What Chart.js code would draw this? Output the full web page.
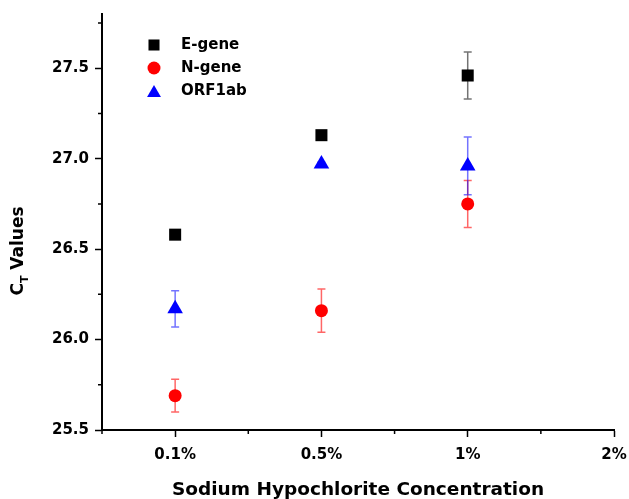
<!DOCTYPE html>
<html>
<head>
<meta charset="utf-8">
<script src="https://cdn.jsdelivr.net/npm/chart.js@4.4.1/dist/chart.umd.min.js"></script>
<style>
  html, body { margin: 0; padding: 0; background: #fff; }
  #wrap { width: 629px; height: 499px; }
</style>
</head>
<body>
<div id="wrap"><canvas id="grafico" width="629" height="499"></canvas></div>
<script>
// concentrations on the x axis (positions 1..4)
const concentrations = ['0.1%', '0.5%', '1%', '2%'];

// Ct values, one per concentration
const eGene = [26.58, 27.13, 27.46];
const nGene = [25.69, 26.16, 26.75];
const orf1ab = [26.17, 26.97, 26.96];

// error bars (+/-)
const eGeneErr = [0.01, 0.01, 0.13];
const nGeneErr = [0.09, 0.12, 0.13];
const orf1abErr = [0.10, 0.01, 0.16];

const seriesNames = ['E-gene', 'N-gene', 'ORF1ab'];
const yTickLabels = [25.5, 26.0, 26.5, 27.0, 27.5];

const FONT = "'DejaVu Sans', sans-serif";

function pontos(valores) {
    return valores.map((v, i) => ({ x: i + 1, y: v }));
}

// error bars drawn behind the markers
const barrasErro = {
    id: 'barrasErro',
    beforeDatasetsDraw(chart) {
        const ctx = chart.ctx;
        const y = chart.scales.y;
        chart.data.datasets.forEach((ds, i) => {
            const meta = chart.getDatasetMeta(i);
            ctx.save();
            ctx.strokeStyle = ds.errColor;
            ctx.lineWidth = 1.5;
            meta.data.forEach((p, j) => {
                const v = ds.data[j].y, e = ds.erros[j];
                const yTop = y.getPixelForValue(v + e);
                const yBot = y.getPixelForValue(v - e);
                ctx.beginPath();
                ctx.moveTo(p.x, yTop); ctx.lineTo(p.x, yBot);
                ctx.moveTo(p.x - 4, yTop); ctx.lineTo(p.x + 4, yTop);
                ctx.moveTo(p.x - 4, yBot); ctx.lineTo(p.x + 4, yBot);
                ctx.stroke();
            });
            ctx.restore();
        });
    }
};

// short minor ticks + legend + y title with subscript
const extras = {
    id: 'extras',
    afterDraw(chart) {
        const ctx = chart.ctx;
        const xs = chart.scales.x, ys = chart.scales.y;
        const area = chart.chartArea;
        ctx.save();
        ctx.strokeStyle = '#000';
        ctx.lineWidth = 1.5;
        ctx.beginPath();
        for (let v = 25.75; v < 27.8; v += 0.5) {
            const py = ys.getPixelForValue(v);
            ctx.moveTo(area.left, py); ctx.lineTo(area.left - 4, py);
        }
        for (let v = 0.5; v < 4; v += 1) {
            const px = xs.getPixelForValue(v);
            ctx.moveTo(px, area.bottom); ctx.lineTo(px, area.bottom + 4);
        }
        ctx.stroke();

        // legend
        ctx.font = 'bold 15px ' + FONT;
        ctx.textBaseline = 'middle';
        ctx.fillStyle = '#000';
        const raios = [7.8, 6.5, 8];
        chart.data.datasets.forEach((ds, i) => {
            const ly = 45 + i * 23;
            ctx.fillStyle = ds.backgroundColor;
            Chart.helpers.drawPoint(ctx, { pointStyle: ds.pointStyle, radius: raios[i], rotation: 0, borderWidth: 0 }, 154, ly + (ds.pointStyle === 'triangle' ? 2 : 0));
            ctx.fillStyle = '#000';
            ctx.fillText(ds.label, 181, ly);
        });

        // y title: C_T Values
        ctx.translate(19, 251);
        ctx.rotate(-Math.PI / 2);
        const big = 'bold 17px ' + FONT, small = 'bold 11px ' + FONT;
        ctx.font = big; const wC = ctx.measureText('C').width; const wV = ctx.measureText(' Values').width;
        ctx.font = small; const wT = ctx.measureText('T').width;
        let x0 = -(wC + wT + wV) / 2;
        ctx.textBaseline = 'middle';
        ctx.textAlign = 'left';
        ctx.font = big; ctx.fillText('C', x0, 0);
        ctx.font = small; ctx.fillText('T', x0 + wC, 6);
        ctx.font = big; ctx.fillText(' Values', x0 + wC + wT, 0);
        ctx.restore();
    }
};

const ctx = document.getElementById('grafico').getContext('2d');

new Chart(ctx, {
    type: 'scatter',
    data: {
        datasets: [
            { label: seriesNames[0], data: pontos(eGene), erros: eGeneErr, errColor: 'rgba(0,0,0,0.55)',
              pointStyle: 'rect', pointRadius: 8.5, backgroundColor: '#000000', borderWidth: 0 },
            { label: seriesNames[1], data: pontos(nGene), erros: nGeneErr, errColor: 'rgba(255,0,0,0.6)',
              pointStyle: 'circle', pointRadius: 6.5, backgroundColor: '#ff0000', borderWidth: 0 },
            { label: seriesNames[2], data: pontos(orf1ab), erros: orf1abErr, errColor: 'rgba(0,0,255,0.55)',
              pointStyle: 'triangle', pointRadius: 9, backgroundColor: '#0000ff', borderWidth: 0 }
        ]
    },
    options: {
        responsive: false,
        animation: false,
        layout: { padding: { top: 14, right: 15, left: 0, bottom: 0 } },
        plugins: { legend: { display: false }, tooltip: { enabled: false } },
        scales: {
            x: {
                type: 'linear',
                min: 0.5, max: 4,
                afterBuildTicks: (s) => { s.ticks = concentrations.map((c, i) => ({ value: i + 1 })); },
                afterFit: (s) => { s.height = 69; s.paddingLeft = 0; s.paddingRight = 0; },
                grid: { display: true, drawOnChartArea: false, tickLength: 7, tickWidth: 1.5, tickColor: '#000' },
                border: { display: true, color: '#000', width: 2 },
                ticks: {
                    autoSkip: false, maxRotation: 0, padding: 9, color: '#000',
                    font: { family: FONT, size: 15, weight: 'bold' },
                    callback: (v) => concentrations[v - 1]
                },
                title: {
                    display: true, text: 'Sodium Hypochlorite Concentration', color: '#000',
                    font: { family: FONT, size: 18.5, weight: 'bold', lineHeight: 1 },
                    padding: { top: 0, bottom: 0 }
                }
            },
            y: {
                min: 25.5, max: 27.8,
                afterBuildTicks: (s) => { s.ticks = yTickLabels.map(v => ({ value: v })); },
                afterFit: (s) => { s.width = 102; s.paddingTop = 0; s.paddingBottom = 0; },
                grid: { display: true, drawOnChartArea: false, tickLength: 7, tickWidth: 1.5, tickColor: '#000' },
                border: { display: true, color: '#000', width: 2 },
                ticks: {
                    padding: 6, color: '#000',
                    font: { family: FONT, size: 15, weight: 'bold' },
                    callback: (v) => v.toFixed(1)
                }
            }
        }
    },
    plugins: [barrasErro, extras]
});
</script>
</body>
</html>
